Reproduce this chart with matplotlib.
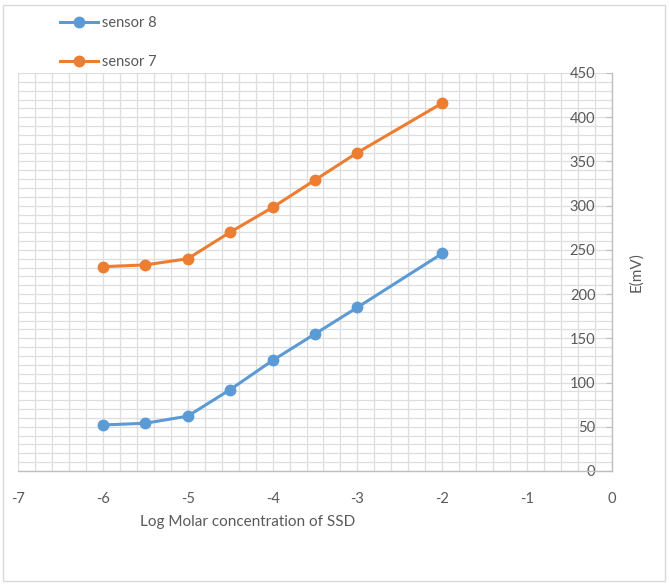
import matplotlib
matplotlib.use("Agg")
import matplotlib.pyplot as plt
from matplotlib.patches import Rectangle
from matplotlib.ticker import MultipleLocator

# ── Data ──────────────────────────────────────────────────────────────────────
log_conc = [-6, -5.5, -5, -4.5, -4, -3.5, -3, -2]
sensor8 = [52, 54, 62, 92, 125, 155, 185, 246]
sensor7 = [231, 233, 240, 270, 298, 329, 360, 416]

BLUE = "#5B9BD5"
ORANGE = "#ED7D31"
TXT = "#595959"
GRID = "#dedede"

plt.rcParams["font.family"] = ["Lato", "DejaVu Sans"]
plt.rcParams["axes.unicode_minus"] = False

fig = plt.figure(figsize=(6.69, 5.85), dpi=100)
ax = fig.add_axes([18 / 669, 1 - 471 / 585, (612 - 18) / 669, (471 - 73) / 585])

l8, = ax.plot(log_conc, sensor8, color=BLUE, lw=2.2, marker="o", ms=7.5, label="sensor 8")
l7, = ax.plot(log_conc, sensor7, color=ORANGE, lw=2.2, marker="o", ms=7.5, label="sensor 7")

ax.set_xlim(-7, 0)
ax.set_ylim(0, 450)
ax.xaxis.set_major_locator(MultipleLocator(1))
ax.xaxis.set_minor_locator(MultipleLocator(0.2))
ax.yaxis.set_major_locator(MultipleLocator(50))
ax.yaxis.set_minor_locator(MultipleLocator(10))
ax.grid(which="both", color=GRID, lw=0.9)
ax.set_axisbelow(True)

# y axis crosses at x = 0 (right edge)
ax.spines["left"].set_position(("data", 0))
for s in ("top", "right"):
    ax.spines[s].set_visible(False)
for s in ("left", "bottom"):
    ax.spines[s].set_color("#bfbfbf")
    ax.spines[s].set_linewidth(1.0)

ax.tick_params(axis="x", which="major", length=0, pad=15, labelsize=10.5, labelcolor=TXT)
ax.tick_params(axis="y", which="major", length=4, direction="out", color="#bfbfbf",
               pad=8, labelsize=10.5, labelcolor=TXT)
ax.tick_params(which="minor", length=0)

# x label sits left of centre, as in the original
fig.text(248 / 669, 1 - 522 / 585, "Log Molar concentration of SSD",
         ha="center", va="center", fontsize=11, color=TXT)
ax.yaxis.set_label_position("right")
ax.set_ylabel("E(mV)", fontsize=11, color=TXT, rotation=90, labelpad=12)

fig.legend(handles=[l8, l7], loc="upper left", bbox_to_anchor=(47 / 669, 1 - 3 / 585),
           frameon=False, fontsize=10.5, labelcolor=TXT, labelspacing=1.7,
           handlelength=2.6, handletextpad=0.3)

# chart area border
fig.patches.append(Rectangle((3 / 669, 4 / 585), 662 / 669, 576 / 585,
                             transform=fig.transFigure, fill=False,
                             edgecolor="#d9d9d9", lw=1.0))

fig.savefig("out.png", dpi=100)
